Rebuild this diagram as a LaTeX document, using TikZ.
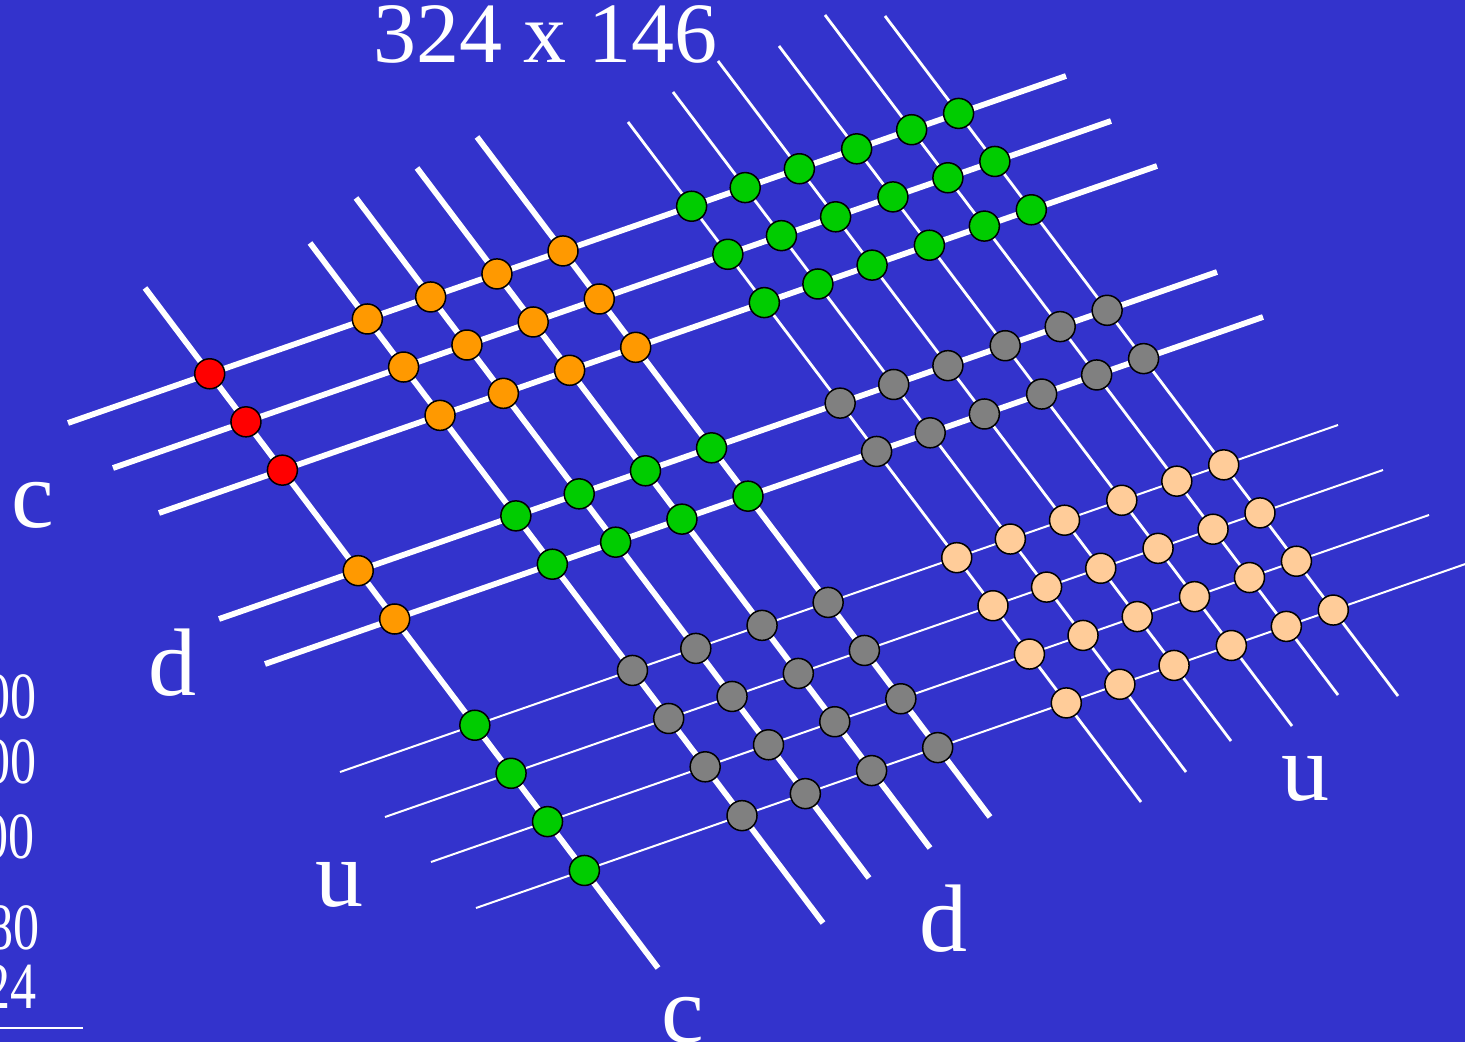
\documentclass[tikz,border=0pt]{standalone}
\usepackage{fontspec}
\setmainfont{Liberation Serif}
\newfontfamily\sumfont[FakeStretch=0.79]{Liberation Serif}
\usepackage{xcolor}
\definecolor{bgblue}{RGB}{51,51,204}
\definecolor{place4}{RGB}{255,0,0}
\definecolor{place3}{RGB}{255,153,0}
\definecolor{place2}{RGB}{0,204,0}
\definecolor{place1}{RGB}{128,128,128}
\definecolor{place0}{RGB}{255,204,153}
\tikzset{
  thickline/.style={white,line width=2.9pt},
  steepthin/.style={white,line width=1.4pt},
  flatthin/.style={white,line width=1pt},
  dot/.style={circle,draw=black,line width=0.75pt,minimum size=15pt,inner sep=0pt},
  biglabel/.style={white,font=\fontsize{48}{50}\selectfont,anchor=base,inner sep=0pt},
  sumtext/.style={white,font=\sumfont\fontsize{33}{35}\selectfont,anchor=base east,inner sep=0pt}
}

\begin{document}
\begin{tikzpicture}[x=0.5pt,y=-0.5pt]
\useasboundingbox (0,0) rectangle (1465,1042);
\clip (0,0) rectangle (1465,1042);
\fill[bgblue] (0,0) rectangle (1465,1042);
% steep lines: 1 hundreds, 4 tens, 6 units
\foreach \i/\x/\y in {1/145/288,2/310/243,3/356/198,4/417/168,5/477/137,6/628/122,7/673/92,8/718/61,9/779/46,10/825/15,11/885/16}{
  \coordinate (s\i top) at (\x,\y);
  \coordinate (s\i bot) at (\x+513,\y+680);
}
% flat lines: 3 hundreds, 2 tens, 4 units
\foreach \j/\x/\y in {1/68/423,2/113/468,3/159/513,4/219/619,5/265/664,6/340/772,7/385/817,8/431/862,9/476/908}{
  \coordinate (f\j lft) at (\x,\y);
  \coordinate (f\j rgt) at (\x+998,\y-347);
}
\foreach \i in {1,...,5}{\draw[thickline] (s\i top) -- (s\i bot);}
\foreach \i in {6,...,11}{\draw[steepthin] (s\i top) -- (s\i bot);}
\foreach \j in {1,...,5}{\draw[thickline] (f\j lft) -- (f\j rgt);}
\foreach \j in {6,...,9}{\draw[flatthin] (f\j lft) -- (f\j rgt);}
% crossings, coloured by place value
\foreach \i/\a in {1/2,2/1,3/1,4/1,5/1,6/0,7/0,8/0,9/0,10/0,11/0}{
  \foreach \j/\b in {1/2,2/2,3/2,4/1,5/1,6/0,7/0,8/0,9/0}{
    \pgfmathtruncatemacro\pv{\a+\b}
    \path (intersection of s\i top--s\i bot and f\j lft--f\j rgt) node[dot,fill=place\pv] (p\i-\j) {};
  }
}
\node[biglabel,font=\fontsize{43}{45}\selectfont] (title) at (545,63) {324 x 146};
\node[biglabel] (cflat) at (33,527) {c};
\node[biglabel] (dflat) at (172,695) {d};
\node[biglabel] (uflat) at (339,906) {u};
\node[biglabel] (csteep) at (683,1042) {c};
\node[biglabel] (dsteep) at (943,951) {d};
\node[biglabel] (usteep) at (1305,800) {u};
% partial sums, cut at the left edge
\foreach \n/\x/\y in {30000/37/718,14000/37/783,3000/35/858,280/40/949,24/37/1008}{
  \node[sumtext] (sum\n) at (\x,\y) {\n};
}
\coordinate (rulel) at (0,1028);
\coordinate (ruler) at (83,1028);
\draw[white,line width=1pt] (rulel) -- (ruler);
\end{tikzpicture}
\end{document}
